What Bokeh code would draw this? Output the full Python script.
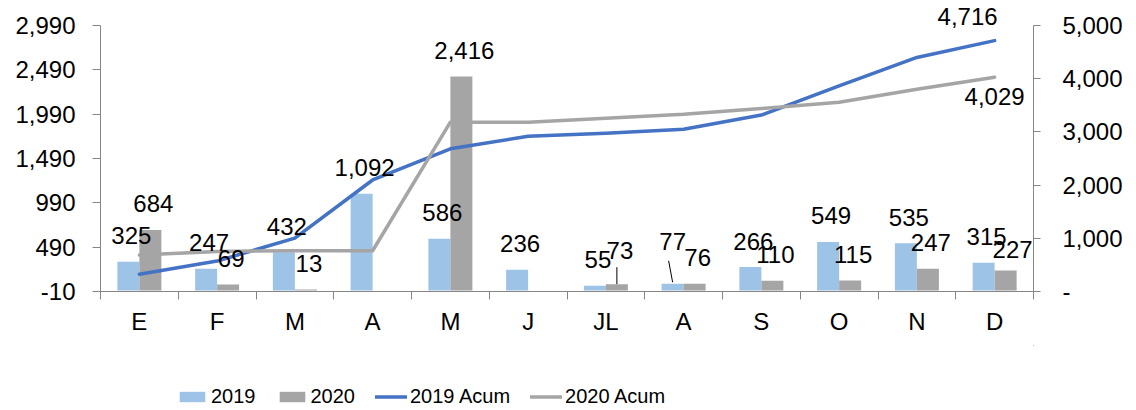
import numpy as np
from bokeh.plotting import figure
from bokeh.layouts import column
from bokeh.models import (Range1d, LinearAxis, FixedTicker, NumeralTickFormatter,
                          ColumnDataSource, Legend, LegendItem)
from bokeh.core.properties import value
from bokeh.embed import file_html
from bokeh.resources import INLINE

# ---------------- data ----------------
months = ["E", "F", "M", "A", "M", "J", "JL", "A", "S", "O", "N", "D"]
v2019 = [325, 247, 432, 1092, 586, 236, 55, 77, 266, 549, 535, 315]
v2020 = [684, 69, 13, None, 2416, None, 73, 76, 110, 115, 247, 227]
acum2019 = [325, 572, 1004, 2096, 2682, 2918, 2973, 3050, 3316, 3865, 4400, 4716]
acum2020 = [684, 753, 766, 766, 3182, 3182, 3255, 3331, 3441, 3556, 3803, 4029]
left_ticks = [-10, 490, 990, 1490, 1990, 2490, 2990]
right_ticks = [0, 1000, 2000, 3000, 4000, 5000]
series_names = ["2019", "2020", "2019 Acum", "2020 Acum"]

# ---------------- style / layout ----------------
W, H1, H2 = 1136, 345, 65
L, R, T, B = 100, 103, 0, 54
TOP_PAD = 25                      # px between frame top and the top tick
frame_w = W - L - R
frame_h = H1 - T - B
tick_span = frame_h - TOP_PAD
FONT = "Liberation Sans"
FS = "24px"
C2019 = "#9DC3E6"
C2020 = "#A5A5A5"
CL2019 = "#4472C4"
CL2020 = "#A5A5A5"
AXC = "#868686"

n = len(months)
xpx = n / frame_w
ypx = (left_ticks[-1] - left_ticks[0]) / tick_span
rpx = (right_ticks[-1] - right_ticks[0]) / tick_span
bar_w = 22 * xpx
xc = np.arange(n) + 0.5

p = figure(width=W, height=H1, x_range=Range1d(0, n),
           y_range=Range1d(left_ticks[0], left_ticks[-1] + TOP_PAD * ypx),
           output_backend="svg", toolbar_location=None,
           min_border_left=L, min_border_right=R, min_border_top=T, min_border_bottom=B)
p.extra_y_ranges = {"right": Range1d(right_ticks[0], right_ticks[-1] + TOP_PAD * rpx)}
p.outline_line_color = None
p.xgrid.visible = False
p.ygrid.visible = False
p.background_fill_color = "white"
p.border_fill_color = "white"

y19 = np.array(v2019, dtype=float)
y20 = np.array([np.nan if v is None else v for v in v2020], dtype=float)

src = ColumnDataSource(dict(x19=xc - bar_w / 2, x20=xc + bar_w / 2, y19=y19, y20=y20,
                            xc=xc, a19=acum2019, a20=acum2020))
bar19 = dict(x="x19", top="y19", bottom=0, width=bar_w, source=src, fill_color=C2019, line_color=None)
bar20 = dict(x="x20", top="y20", bottom=0, width=bar_w, source=src, fill_color=C2020, line_color=None)
ln19 = dict(x="xc", y="a19", source=src, line_color=CL2019, line_width=3.5, line_cap="round", line_join="round")
ln20 = dict(x="xc", y="a20", source=src, line_color=CL2020, line_width=3.5, line_cap="round", line_join="round")
p.vbar(**bar19)
p.vbar(**bar20)
p.line(y_range_name="right", **ln19)
p.line(y_range_name="right", **ln20)

# ---------------- bar data labels ----------------
DY = -26
special = {("2020", 6): (3, DY - 8), ("2019", 7): (0, DY - 16), ("2020", 11): (7, DY + 5)}
lx, ly, lt, lxo, lyo = [], [], [], [], []
for name, xs, vals in (("2019", xc - bar_w / 2, v2019), ("2020", xc + bar_w / 2, v2020)):
    for i, v in enumerate(vals):
        if v is None:
            continue
        ox, oy = special.get((name, i), (3, DY))
        lx.append(xs[i]); ly.append(v); lt.append(f"{v:,}")
        lxo.append(ox); lyo.append(oy)
p.text(x="x", y="y", text="t", x_offset="xo", y_offset="yo",
       source=ColumnDataSource(dict(x=lx, y=ly, t=lt, xo=lxo, yo=lyo)),
       text_align="center", text_baseline="alphabetic",
       text_font=value(FONT), text_font_size=FS, text_color="black")

# leader lines
p.segment(x0=[xc[6] + bar_w / 2], y0=[v2020[6]], x1=[xc[6] + bar_w / 2], y1=[v2020[6] + 17 * ypx],
          line_color="black", line_width=1)
p.segment(x0=[xc[7] - bar_w / 2], y0=[v2019[7] + 1.5 * ypx], x1=[xc[7] - bar_w / 2 - 4 * xpx],
          y1=[v2019[7] + 23 * ypx], line_color="black", line_width=1)

# line end labels
p.text(x=[xc[-1]], y=[acum2019[-1]], text=[f"{acum2019[-1]:,}"], x_offset=-27, y_offset=-24,
       y_range_name="right", text_align="center", text_baseline="alphabetic",
       text_font=value(FONT), text_font_size=FS, text_color="black")
p.text(x=[xc[-1]], y=[acum2020[-1]], text=[f"{acum2020[-1]:,}"], x_offset=0, y_offset=19,
       y_range_name="right", text_align="center", text_baseline="alphabetic",
       text_font=value(FONT), text_font_size=FS, text_color="black")

# ---------------- axes ----------------
xa = p.xaxis[0]
xa.ticker = FixedTicker(ticks=list(xc), minor_ticks=list(range(n + 1)))
xa.major_label_overrides = {float(x): m for x, m in zip(xc, months)}
xa.major_tick_out = 0
xa.major_tick_in = 0
xa.minor_tick_out = 8
xa.minor_tick_in = 0
xa.minor_tick_line_color = AXC
xa.axis_line_color = AXC
xa.major_label_standoff = 8
xa.major_label_text_font = FONT
xa.major_label_text_font_size = FS
xa.major_label_text_color = "black"

ya = p.yaxis[0]
ya.ticker = FixedTicker(ticks=left_ticks, minor_ticks=[])
ya.formatter = NumeralTickFormatter(format="0,0")
ya.bounds = (left_ticks[0], left_ticks[-1])
ya.major_tick_out = 8
ya.major_tick_in = 0
ya.major_tick_line_color = AXC
ya.axis_line_color = AXC
ya.major_label_standoff = 17
ya.major_label_text_font = FONT
ya.major_label_text_font_size = FS
ya.major_label_text_color = "black"

ra = LinearAxis(y_range_name="right")
ra.ticker = FixedTicker(ticks=right_ticks, minor_ticks=[])
ra.formatter = NumeralTickFormatter(format="0,0")
ra.major_label_overrides = {0: "-"}
ra.bounds = (right_ticks[0], right_ticks[-1])
ra.major_tick_out = 7
ra.major_tick_in = 0
ra.major_tick_line_color = AXC
ra.axis_line_color = AXC
ra.major_label_standoff = 22
ra.major_label_text_font = FONT
ra.major_label_text_font_size = FS
ra.major_label_text_color = "black"
p.add_layout(ra, "right")

# ---------------- legend (strip below the chart; its data lies outside its view) ----------------
lf = figure(width=W, height=H2, x_range=Range1d(-3, -2), y_range=Range1d(-3, -2),
            output_backend="svg", toolbar_location=None,
            x_axis_location=None, y_axis_location=None,
            min_border_left=0, min_border_right=0, min_border_top=0, min_border_bottom=0)
lf.outline_line_color = None
lf.xgrid.visible = False
lf.ygrid.visible = False
lr1 = lf.vbar(**bar19)
lr2 = lf.vbar(**bar20)
lr3 = lf.line(**ln19)
lr4 = lf.line(**ln20)
legend = Legend(items=[LegendItem(label=s, renderers=[r]) for s, r in zip(series_names, [lr1, lr2, lr3, lr4])],
                orientation="horizontal", location=(76, 2),
                glyph_width=32, glyph_height=13, label_standoff=3, spacing=20,
                padding=0, margin=0, border_line_color=None, background_fill_alpha=0,
                label_text_font=FONT, label_text_font_size="20px",
                label_height=20, label_text_color="black")
lf.add_layout(legend)

layout = column(p, lf, spacing=0)
open("out.html", "w").write(file_html(layout, INLINE))
